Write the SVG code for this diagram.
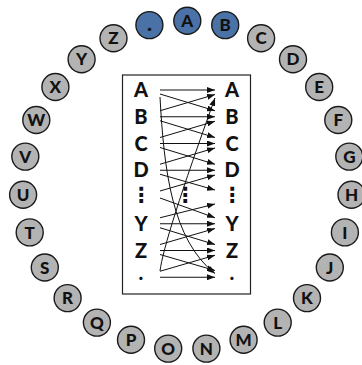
<svg xmlns="http://www.w3.org/2000/svg" width="362" height="365" viewBox="0 0 362 365">
<style>
.n circle{fill:#b3b3b3;stroke:#1a1a1a;stroke-width:1.4}
.n.hl circle{fill:#4a72a6}
.n text{font-family:Lato,"Open Sans","DejaVu Sans",sans-serif;font-weight:900;font-size:17px;text-anchor:middle;fill:#111}
.bx{fill:#fff;stroke:#222;stroke-width:1.2}
.lb{font-family:Lato,"Open Sans","DejaVu Sans",sans-serif;font-weight:900;font-size:20px;text-anchor:middle;fill:#111}
.el{font-family:"DejaVu Sans",sans-serif;font-weight:700;font-size:21px;text-anchor:middle;fill:#111}
#conn line,#conn path{stroke:#111;stroke-width:1;fill:none;marker-end:url(#ah)}
</style>
<defs>
<marker id="ah" viewBox="0 0 8 6" refX="8" refY="3" markerWidth="8" markerHeight="6" markerUnits="userSpaceOnUse" orient="auto"><path d="M0,0L8,3L0,6z" fill="#111"/></marker>
</defs>
<g id="ring">
<g id="nA" class="n hl"><circle cx="187.3" cy="20.7" r="13.5"/><text x="187.3" y="26.8">A</text></g>
<g id="nB" class="n hl"><circle cx="225.2" cy="25.1" r="13.5"/><text x="225.2" y="31.2">B</text></g>
<g id="nC" class="n"><circle cx="261.1" cy="38.2" r="13.5"/><text x="261.1" y="44.3">C</text></g>
<g id="nD" class="n"><circle cx="293" cy="59.2" r="13.5"/><text x="293" y="65.3">D</text></g>
<g id="nE" class="n"><circle cx="319.2" cy="87" r="13.5"/><text x="319.2" y="93.1">E</text></g>
<g id="nF" class="n"><circle cx="338.3" cy="120" r="13.5"/><text x="338.3" y="126.1">F</text></g>
<g id="nG" class="n"><circle cx="349.3" cy="156.6" r="13.5"/><text x="349.3" y="162.7">G</text></g>
<g id="nH" class="n"><circle cx="351.5" cy="194.8" r="13.5"/><text x="351.5" y="200.9">H</text></g>
<g id="nI" class="n"><circle cx="344.9" cy="232.4" r="13.5"/><text x="344.9" y="238.5">I</text></g>
<g id="nJ" class="n"><circle cx="329.8" cy="267.5" r="13.5"/><text x="329.8" y="273.6">J</text></g>
<g id="nK" class="n"><circle cx="307" cy="298.1" r="13.5"/><text x="307" y="304.2">K</text></g>
<g id="nL" class="n"><circle cx="277.7" cy="322.6" r="13.5"/><text x="277.7" y="328.7">L</text></g>
<g id="nM" class="n"><circle cx="243.6" cy="339.8" r="13.5"/><text x="243.6" y="345.9">M</text></g>
<g id="nN" class="n"><circle cx="206.4" cy="348.6" r="13.5"/><text x="206.4" y="354.7">N</text></g>
<g id="nO" class="n"><circle cx="168.2" cy="348.6" r="13.5"/><text x="168.2" y="354.7">O</text></g>
<g id="nP" class="n"><circle cx="131" cy="339.8" r="13.5"/><text x="131" y="345.9">P</text></g>
<g id="nQ" class="n"><circle cx="96.9" cy="322.6" r="13.5"/><text x="96.9" y="328.7">Q</text></g>
<g id="nR" class="n"><circle cx="67.6" cy="298.1" r="13.5"/><text x="67.6" y="304.2">R</text></g>
<g id="nS" class="n"><circle cx="44.8" cy="267.5" r="13.5"/><text x="44.8" y="273.6">S</text></g>
<g id="nT" class="n"><circle cx="29.7" cy="232.4" r="13.5"/><text x="29.7" y="238.5">T</text></g>
<g id="nU" class="n"><circle cx="23.1" cy="194.8" r="13.5"/><text x="23.1" y="200.9">U</text></g>
<g id="nV" class="n"><circle cx="25.3" cy="156.6" r="13.5"/><text x="25.3" y="162.7">V</text></g>
<g id="nW" class="n"><circle cx="36.3" cy="120" r="13.5"/><text x="36.3" y="126.1">W</text></g>
<g id="nX" class="n"><circle cx="55.4" cy="87" r="13.5"/><text x="55.4" y="93.1">X</text></g>
<g id="nY" class="n"><circle cx="81.6" cy="59.2" r="13.5"/><text x="81.6" y="65.3">Y</text></g>
<g id="nZ" class="n"><circle cx="113.5" cy="38.2" r="13.5"/><text x="113.5" y="44.3">Z</text></g>
<g id="nDot" class="n hl"><circle cx="149.4" cy="25.1" r="13.5"/><text x="149.4" y="31.2" style="font-size:21px">.</text></g>
</g>
<g id="box">
<rect class="bx" x="122.5" y="75" width="128" height="219"/>
</g>
<g id="left">
<text class="lb" x="141" y="97.2">A</text>
<text class="lb" x="141" y="123.95">B</text>
<text class="lb" x="141" y="150.7">C</text>
<text class="lb" x="141" y="177.45">D</text>
<text class="el" x="141" y="202">⋮</text>
<text class="lb" x="141" y="230.95">Y</text>
<text class="lb" x="141" y="257.7">Z</text>
<text class="lb" x="141" y="279.8">.</text>
</g>
<g id="mid">
<text class="el" x="185" y="202">⋮</text>
</g>
<g id="right">
<text class="lb" x="232" y="97.2">A</text>
<text class="lb" x="232" y="123.95">B</text>
<text class="lb" x="232" y="150.7">C</text>
<text class="lb" x="232" y="177.45">D</text>
<text class="el" x="232" y="202">⋮</text>
<text class="lb" x="232" y="230.95">Y</text>
<text class="lb" x="232" y="257.7">Z</text>
<text class="lb" x="232" y="279.8">.</text>
</g>
<g id="conn">
<line x1="160" y1="90" x2="215" y2="90"/>
<line x1="160" y1="94" x2="215" y2="110.75"/>
<line x1="160" y1="110.75" x2="215" y2="94.5"/>
<line x1="160" y1="116.75" x2="215" y2="116.75"/>
<line x1="160" y1="120.75" x2="215" y2="137.5"/>
<line x1="160" y1="137.5" x2="215" y2="121.25"/>
<line x1="160" y1="143.5" x2="215" y2="143.5"/>
<line x1="160" y1="147.5" x2="215" y2="164.25"/>
<line x1="160" y1="164.25" x2="215" y2="148"/>
<line x1="160" y1="170.25" x2="215" y2="170.25"/>
<line x1="160" y1="174.25" x2="215" y2="190"/>
<line x1="160" y1="191" x2="215" y2="175"/>
<line x1="160" y1="198" x2="215" y2="217.75"/>
<line x1="160" y1="217.75" x2="215" y2="204"/>
<line x1="160" y1="223.75" x2="215" y2="223.75"/>
<line x1="160" y1="227.75" x2="215" y2="244.5"/>
<line x1="160" y1="244.5" x2="215" y2="228.5"/>
<line x1="160" y1="250.5" x2="215" y2="250.5"/>
<line x1="160" y1="254.5" x2="215" y2="270.5"/>
<line x1="160" y1="271.25" x2="215" y2="255.25"/>
<line x1="160" y1="277.25" x2="215" y2="277.25"/>
<path d="M160,97 C164,170 172,240 215,273.5"/>
<path d="M160,271 Q164,239 215,98"/>
</g>
</svg>
